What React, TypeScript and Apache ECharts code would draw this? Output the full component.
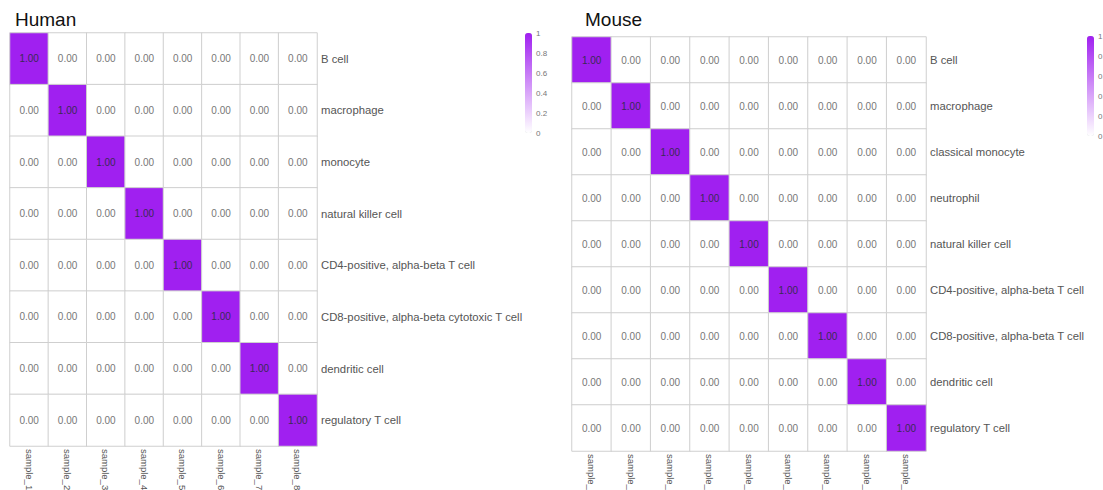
import React, { useEffect, useRef } from "react";
import * as echarts from "echarts";

// Cell types (rows, top to bottom) and samples (columns)
const humanCellTypes = [
  "B cell",
  "macrophage",
  "monocyte",
  "natural killer cell",
  "CD4-positive, alpha-beta T cell",
  "CD8-positive, alpha-beta cytotoxic T cell",
  "dendritic cell",
  "regulatory T cell",
];
const humanSamples = ["sample_1", "sample_2", "sample_3", "sample_4", "sample_5", "sample_6", "sample_7", "sample_8"];
const humanScores = [
  [1, 0, 0, 0, 0, 0, 0, 0],
  [0, 1, 0, 0, 0, 0, 0, 0],
  [0, 0, 1, 0, 0, 0, 0, 0],
  [0, 0, 0, 1, 0, 0, 0, 0],
  [0, 0, 0, 0, 1, 0, 0, 0],
  [0, 0, 0, 0, 0, 1, 0, 0],
  [0, 0, 0, 0, 0, 0, 1, 0],
  [0, 0, 0, 0, 0, 0, 0, 1],
];

const mouseCellTypes = [
  "B cell",
  "macrophage",
  "classical monocyte",
  "neutrophil",
  "natural killer cell",
  "CD4-positive, alpha-beta T cell",
  "CD8-positive, alpha-beta T cell",
  "dendritic cell",
  "regulatory T cell",
];
const mouseSamples = ["sample_1", "sample_2", "sample_3", "sample_4", "sample_5", "sample_6", "sample_7", "sample_8", "sample_9"];
const mouseScores = [
  [1, 0, 0, 0, 0, 0, 0, 0, 0],
  [0, 1, 0, 0, 0, 0, 0, 0, 0],
  [0, 0, 1, 0, 0, 0, 0, 0, 0],
  [0, 0, 0, 1, 0, 0, 0, 0, 0],
  [0, 0, 0, 0, 1, 0, 0, 0, 0],
  [0, 0, 0, 0, 0, 1, 0, 0, 0],
  [0, 0, 0, 0, 0, 0, 1, 0, 0],
  [0, 0, 0, 0, 0, 0, 0, 1, 0],
  [0, 0, 0, 0, 0, 0, 0, 0, 1],
];

const colorbarTicks = [1, 0.8, 0.6, 0.4, 0.2, 0];

const FONT = "'Liberation Sans', Arial, sans-serif";
const PURPLE = "#a020f0";

function toCells(scores: number[][]) {
  const out: any[] = [];
  scores.forEach((row, r) =>
    row.forEach((v, c) => {
      out.push({
        value: [c, r, v],
        label: { color: v > 0.5 ? "#3a2a55" : "#777" },
      });
    })
  );
  return out;
}

function colorbarLabels(left: number, top: number, height: number) {
  return colorbarTicks.map((t) => ({
    type: "text",
    left,
    top: top + (1 - t) * height - 4,
    style: { text: String(t), fill: "#777", font: `8px ${FONT}` },
  }));
}

export default function App() {
  const ref = useRef<HTMLDivElement>(null);

  useEffect(() => {
    if (!ref.current) return;
    const chart = echarts.init(ref.current, undefined, { renderer: "svg" });

    const grids = [
      { left: 10, top: 33, width: 307, height: 413, outerBoundsMode: "none", containLabel: false },
      { left: 572, top: 37, width: 354, height: 414, outerBoundsMode: "none", containLabel: false },
    ];
    const cats = [humanCellTypes, mouseCellTypes];
    const samples = [humanSamples, mouseSamples];
    const bars = [
      { left: 525, top: 33 },
      { left: 1087, top: 36 },
    ];
    const barH = 100;

    const titleStyle = { fontSize: 19, fontWeight: "normal", color: "#111", fontFamily: FONT };

    const option: any = {
      animation: false,
      backgroundColor: "#fff",
      textStyle: { fontFamily: FONT },
      title: [
        { text: "Human", left: 15, top: 10, textStyle: titleStyle, padding: 0 },
        { text: "Mouse", left: 585, top: 10, textStyle: titleStyle, padding: 0 },
      ],
      grid: grids,
      xAxis: samples.map((s, i) => ({
        type: "category",
        gridIndex: i,
        data: s,
        axisLine: { show: false },
        axisTick: { show: false },
        splitArea: { show: false },
        axisLabel: { rotate: -90, fontSize: 9.5, color: "#555", margin: 3, fontFamily: FONT },
      })),
      yAxis: cats.map((c, i) => ({
        type: "category",
        gridIndex: i,
        data: c,
        inverse: true,
        position: "right",
        axisLine: { show: false },
        axisTick: { show: false },
        axisLabel: { fontSize: 11.3, color: "#555", margin: 4, fontFamily: FONT },
      })),
      visualMap: bars.map((b, i) => ({
        type: "continuous",
        seriesIndex: i,
        min: 0,
        max: 1,
        calculable: false,
        hoverLink: false,
        orient: "vertical",
        left: b.left,
        top: b.top,
        padding: 0,
        itemWidth: 7,
        itemHeight: barH,
        text: ["", ""],
        inRange: { color: ["#ffffff", PURPLE] },
      })),
      graphic: [
        ...colorbarLabels(bars[0].left + 11, bars[0].top, barH),
        ...colorbarLabels(bars[1].left + 11, bars[1].top, barH),
      ],
      series: [humanScores, mouseScores].map((scores, i) => ({
        type: "heatmap",
        xAxisIndex: i,
        yAxisIndex: i,
        data: toCells(scores),
        label: {
          show: true,
          fontSize: 10,
          fontFamily: FONT,
          formatter: (p: any) => Number(p.value[2]).toFixed(2),
        },
        itemStyle: { borderColor: "#cfcfcf", borderWidth: 1 },
        emphasis: { disabled: true },
      })),
    };

    chart.setOption(option);
    return () => chart.dispose();
  }, []);

  return (
    <div
      ref={ref}
      style={{ position: "absolute", left: 0, top: 0, width: 1103, height: 490 }}
    />
  );
}
